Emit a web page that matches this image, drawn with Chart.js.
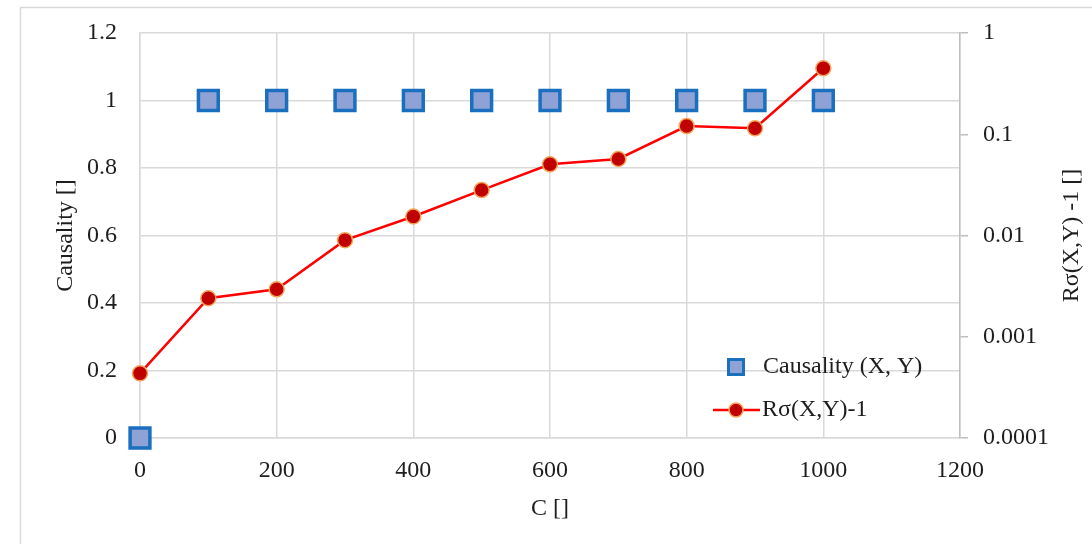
<!DOCTYPE html>
<html>
<head>
<meta charset="utf-8">
<script src="https://cdn.jsdelivr.net/npm/chart.js@4"></script>
<style>
  html, body { margin: 0; padding: 0; background: #fff; }
  #wrap { width: 1092px; height: 544px; }
</style>
</head>
<body>
<div id="wrap"><canvas id="chart" width="1092" height="544"></canvas></div>
<script>
// data
var cValues = [0, 100, 200, 300, 400, 500, 600, 700, 800, 900, 1000];
var causality = [0, 1, 1, 1, 1, 1, 1, 1, 1, 1, 1];
var rSigma = [0.000435, 0.0024, 0.00294, 0.009, 0.0154, 0.0281, 0.0505, 0.057, 0.1205, 0.1145, 0.448];
var logTicks = [0.0001, 0.001, 0.01, 0.1, 1];

var FONT = 'Liberation Serif';
var FS = 24;
var TXT = '#1e1e1e';
var GRID = '#d9d9d9';

function pts(ys) {
  return cValues.map(function (x, i) { return { x: x, y: ys[i] }; });
}

// frame around the figure + custom legend + right axis title
var extras = {
  id: 'extras',
  beforeDraw: function (chart) {
    var ctx = chart.ctx;
    ctx.save();
    ctx.fillStyle = '#fff';
    ctx.fillRect(0, 0, chart.width, chart.height);
    ctx.strokeStyle = '#d9d9d9';
    ctx.lineWidth = 1.5;
    ctx.strokeRect(20.5, 7.5, chart.width + 20, chart.height + 20);
    ctx.restore();
  },
  afterDraw: function (chart) {
    var ctx = chart.ctx;
    var a = chart.chartArea;
    ctx.save();
    // right axis title, reading bottom to top
    ctx.font = FS + 'px "' + FONT + '"';
    ctx.fillStyle = TXT;
    ctx.textAlign = 'center';
    ctx.textBaseline = 'middle';
    ctx.translate(1072, (a.top + a.bottom) / 2);
    ctx.rotate(-Math.PI / 2);
    ctx.fillText('R\u03c3(X,Y) -1 []', 0, 0);
    ctx.restore();

    // legend
    var lx = a.right - 224;
    var ds0 = chart.data.datasets[0];
    var ds1 = chart.data.datasets[1];
    ctx.save();
    ctx.font = FS + 'px "' + FONT + '"';
    ctx.textBaseline = 'middle';
    ctx.textAlign = 'left';
    var y0 = 367;
    ctx.fillStyle = ds0.backgroundColor;
    ctx.strokeStyle = ds0.borderColor;
    ctx.lineWidth = 3;
    ctx.fillRect(lx - 7.5, y0 - 7.5, 15, 15);
    ctx.strokeRect(lx - 7.5, y0 - 7.5, 15, 15);
    ctx.fillStyle = TXT;
    ctx.fillText(ds0.label, lx + 27, y0);

    var y1 = 410;
    ctx.strokeStyle = ds1.borderColor;
    ctx.lineWidth = ds1.borderWidth;
    ctx.beginPath();
    ctx.moveTo(lx - 23, y1);
    ctx.lineTo(lx + 24, y1);
    ctx.stroke();
    ctx.beginPath();
    ctx.arc(lx, y1, 7, 0, Math.PI * 2);
    ctx.fillStyle = ds1.pointBackgroundColor;
    ctx.fill();
    ctx.lineWidth = ds1.pointBorderWidth;
    ctx.strokeStyle = ds1.pointBorderColor;
    ctx.stroke();
    ctx.fillStyle = TXT;
    ctx.fillText(ds1.label, lx + 26, y1);
    ctx.restore();
  }
};

window.onload = function () {
  var config = {
    type: 'scatter',
    data: {
      datasets: [
        {
          label: 'Causality (X, Y)',
          data: pts(causality),
          yAxisID: 'y',
          showLine: false,
          pointStyle: 'rect',
          pointRadius: 14,
          pointHoverRadius: 14,
          backgroundColor: '#8fa2d6',
          borderColor: '#1a6fbf',
          borderWidth: 3.5,
          clip: false,
          order: 2
        },
        {
          label: 'R\u03c3(X,Y)-1',
          data: pts(rSigma),
          yAxisID: 'y1',
          showLine: true,
          borderColor: '#ff0000',
          backgroundColor: '#ff0000',
          borderWidth: 2.5,
          pointRadius: 7.5,
          pointHoverRadius: 7.5,
          pointBackgroundColor: '#c00000',
          pointBorderColor: '#f5a65b',
          pointBorderWidth: 1.5,
          clip: false,
          order: 1
        }
      ]
    },
    options: {
      responsive: false,
      animation: false,
      layout: { padding: { top: 33, left: 0, right: 0, bottom: 0 } },
      plugins: {
        legend: { display: false },
        tooltip: { enabled: false }
      },
      scales: {
        x: {
          type: 'linear',
          min: 0,
          max: 1200,
          ticks: {
            stepSize: 200, padding: 18, color: TXT, font: { family: FONT, size: FS },
            callback: function (v) { return String(v); }
          },
          grid: { color: GRID, lineWidth: 1.5, drawTicks: false },
          border: { display: true, color: GRID, width: 1.5 },
          title: { display: true, text: 'C []', color: TXT, font: { family: FONT, size: FS }, padding: { top: 0, bottom: 21 } },
          afterFit: function (s) { s.height = 106; }
        },
        y: {
          type: 'linear',
          position: 'left',
          min: 0,
          max: 1.2,
          ticks: {
            stepSize: 0.2, padding: 3, color: TXT, font: { family: FONT, size: FS },
            callback: function (v) { return String(Number(v.toFixed(1))); }
          },
          grid: { color: GRID, lineWidth: 1.5, drawTicks: true, tickLength: 20, tickColor: 'rgba(0,0,0,0)' },
          border: { display: true, color: GRID, width: 1.5 },
          title: { display: true, text: 'Causality []', color: TXT, font: { family: FONT, size: FS }, padding: { top: 51, bottom: 0 } },
          afterFit: function (s) { s.width = 140; }
        },
        y1: {
          type: 'logarithmic',
          position: 'right',
          min: 0.0001,
          max: 1,
          afterBuildTicks: function (s) { s.ticks = logTicks.map(function (v) { return { value: v }; }); },
          ticks: {
            padding: 3, color: TXT, font: { family: FONT, size: FS },
            callback: function (v) { return String(v); }
          },
          grid: { drawOnChartArea: false, drawTicks: true, tickLength: 8, color: '#bfbfbf', lineWidth: 1.5 },
          border: { display: true, color: '#bfbfbf', width: 1.5 },
          afterFit: function (s) { s.width = 132; s.options.ticks.padding = 15; }
        }
      }
    },
    plugins: [extras]
  };

  var ctx = document.getElementById('chart').getContext('2d');
  window.myChart = new Chart(ctx, config);
};
</script>
</body>
</html>
